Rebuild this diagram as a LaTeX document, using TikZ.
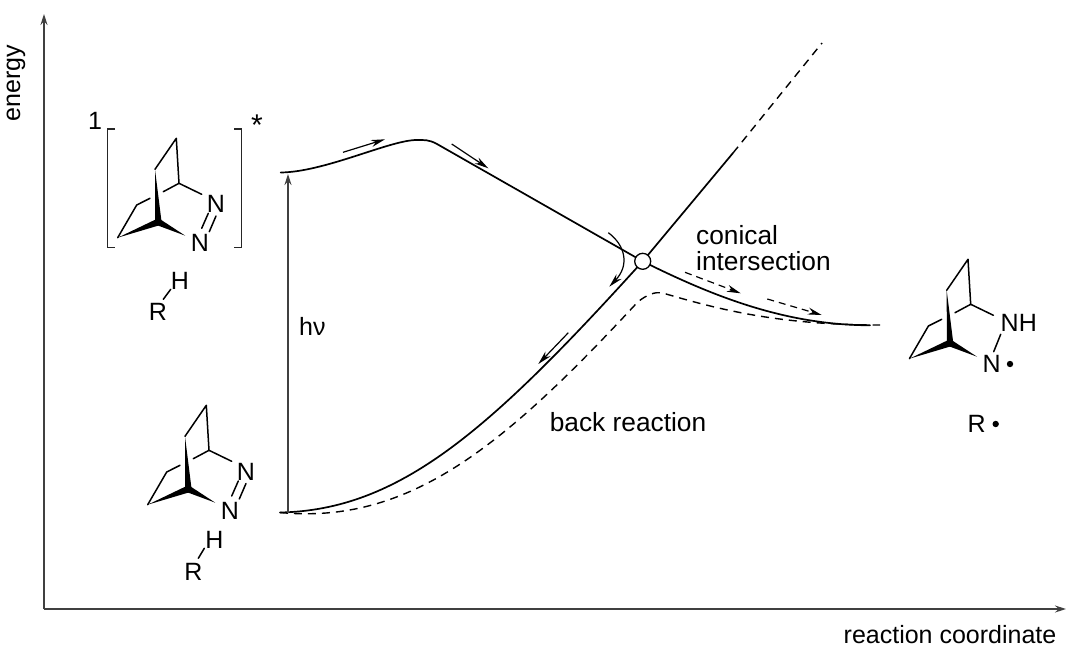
\documentclass[tikz,border=0pt]{standalone}
\usepackage{fontspec}
\setmainfont{Liberation Sans}
\usetikzlibrary{arrows.meta}
\tikzset{
  bondline/.style={line width=1.5pt,line cap=round,line join=round},
  curveline/.style={line width=1.7pt,line cap=round},
  dashcurve/.style={line width=1.4pt,dash pattern=on 8pt off 6pt},
  axisline/.style={line width=1.3pt,black!75,-{Stealth[length=11pt,width=7pt]}},
  flowarrow/.style={line width=1.2pt,-{Stealth[length=14pt,width=7pt]}},
  flowdash/.style={line width=1.2pt,dash pattern=on 7pt off 5pt,-{Stealth[length=14pt,width=7pt]}},
  bracketline/.style={line width=1.5pt,black!85},
  lab/.style={inner sep=0pt,font=\fontsize{25}{27}\selectfont},
  biglab/.style={inner sep=0pt,font=\fontsize{26.3}{28}\selectfont},
  pics/bicycle/.style={code={
    \coordinate (-c) at (0,0);
    \coordinate (-top) at (18,-84);
    \coordinate (-a) at (-3.3,-53);
    \coordinate (-br) at (20.7,-39);
    \coordinate (-nb) at (43.4,-28);
    \coordinate (-l) at (-40.6,15.4);
    \coordinate (-c2) at (-21.6,-17.3);
    \coordinate (-g1) at (-8.3,-24);
    \coordinate (-g2) at (5,-30.6);
    \coordinate (-w) at (27,13.4);
    \draw[bondline] (-l) -- (-c2) -- (-g1);
    \draw[bondline] (-g2) -- (-br) -- (-top) -- (-a);
    \draw[bondline] (-br) -- (-nb);
    \fill (-a) -- (3.2,-1) -- (0,2) -- (-3.2,-1) -- cycle;
    \fill (-l) -- (-1,-3.6) -- (1,3) -- cycle;
    \fill (-w) -- (1,-3.6) -- (-1,3) -- cycle;
  }}
}
\begin{document}
\begin{tikzpicture}[x=1pt,y=-1pt]
\useasboundingbox (0,0) rectangle (1077,648);
% axes
\coordinate (o) at (44,609);
\coordinate (ytip) at (44,14);
\coordinate (xtip) at (1066,609);
\draw[axisline] (o) -- (ytip);
\draw[axisline] (o) -- (xtip);
\node[lab,rotate=90] (ylab) at (16,83) {energy};
\node[lab] (xlab) at (950,635) {reaction coordinate};
% molecule 1
\pic (m1) at (158.3,222.3) {bicycle};
\node[lab] (n1a) at (216,204) {N};
\node[lab] (n1b) at (200,243.3) {N};
\draw[bondline] (208.3,213.3) -- (201.7,228.3);
\draw[bondline] (216,216) -- (209.3,231.7);
\draw[bracketline] (115,129) -- (107.7,129) -- (107.7,247.7) -- (115,247.7);
\draw[bracketline] (234,129) -- (241.3,129) -- (241.3,247.7) -- (234,247.7);
\node[lab] (one) at (95,120.5) {1};
\node[inner sep=0pt,font=\fontsize{30}{32}\selectfont] (star) at (257,125) {*};
\node[lab] (h1) at (180,281) {H};
\node[lab] (r1) at (158,312) {R};
\draw[bondline] (170.7,289.3) -- (163.3,299.3);
% molecule 2
\pic (m2) at (188.3,489.3) {bicycle};
\node[lab] (n2a) at (246,471.5) {N};
\node[lab] (n2b) at (230,510.7) {N};
\draw[bondline] (238.3,481) -- (231.7,496);
\draw[bondline] (246,483.5) -- (239.3,499);
\node[lab] (h2) at (214.3,540) {H};
\node[lab] (r2) at (193.3,571.7) {R};
\draw[bondline] (204.3,548.3) -- (198.3,558.3);
% molecule 3
\pic (m3) at (950,343.3) {bicycle};
\node[lab,anchor=west] (nh) at (1000.5,323.3) {NH};
\node[lab] (n3) at (991.7,364.3) {N};
\draw[bondline] (1000.7,334.3) -- (993.7,351.7);
\fill (1010,364) circle (3.2);
\node[lab] (r3) at (976.7,424.3) {R};
\fill (995.7,424) circle (3.2);
% curves
\coordinate (s1) at (280.7,172.5);
\coordinate (s2) at (280,512.5);
\coordinate (peak) at (437,144);
\coordinate (m) at (870,325.3);
\coordinate (me) at (880,325);
\coordinate (up) at (733,153);
\coordinate (upe) at (822,43);
\coordinate (ci) at (642.7,261.3);
\coordinate (hb) at (288,512.5);
\coordinate (ht) at (288,174);
\draw[curveline] (s1) .. controls (325,172) and (390,140) .. (416.7,140)
   .. controls (424,140) and (429,139.5) .. (peak) -- (ci);
\draw[curveline] (s2) .. controls (400,510) and (490,430) .. (ci);
\draw[curveline] (ci) .. controls (720,300) and (790,325) .. (m);
\draw[curveline] (ci) -- (up);
\draw[dashcurve] (up) -- (upe);
\draw[dashcurve] (s2) .. controls (410,525) and (505,445) .. (638,301.7)
   .. controls (648,294) and (655,292) .. (661.7,292.7)
   .. controls (720,310) and (780,325) .. (me);
\node[draw,circle,fill=white,line width=1.3pt,minimum size=16pt,inner sep=0pt] (cinode) at (ci) {};
% h nu arrow
\draw[axisline] (hb) -- (ht);
\node[lab,anchor=west] (hv) at (299,326) {hν};
% small arrows
\draw[flowarrow] (343,152.3) -- (385,139.3);
\draw[flowarrow] (451.7,144) -- (488.3,168.3);
\draw[flowarrow] (608.3,232.7) .. controls (625,245) and (630,265) .. (609.3,286.7);
\draw[flowarrow] (568.3,332.7) -- (538.3,364);
\draw[flowdash] (685,272.3) -- (740.7,293.3);
\draw[flowdash] (767.3,299) -- (821.7,315);
% labels
\node[biglab,anchor=base west] (con) at (696,244) {conical};
\node[biglab,anchor=base west] (int) at (696,270.5) {intersection};
\node[biglab] (back) at (628,422) {back reaction};
\end{tikzpicture}
\end{document}
